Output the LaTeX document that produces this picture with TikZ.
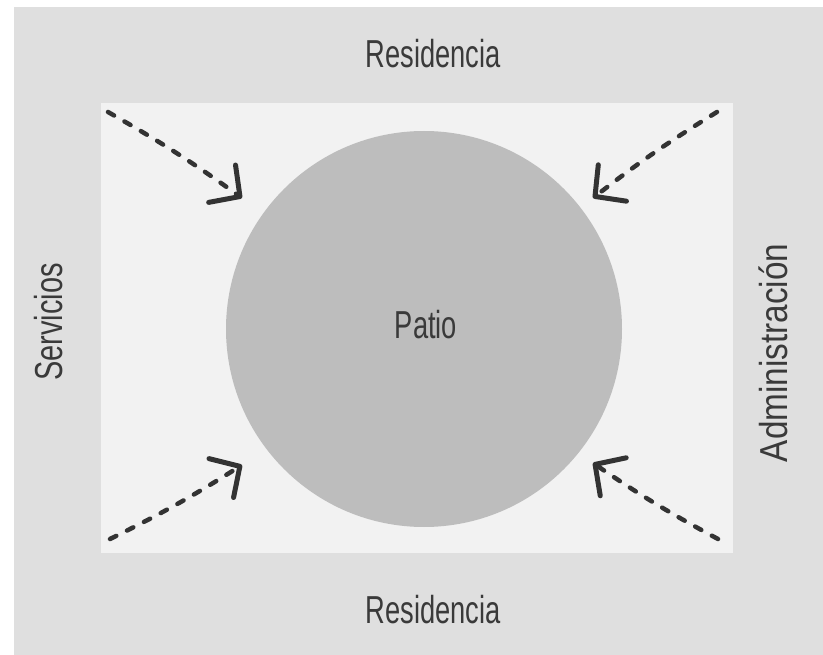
\documentclass[tikz,border=0pt]{standalone}
\usepackage{fontspec}
\newfontfamily\condfont[FakeStretch=0.7]{Liberation Sans}
\usetikzlibrary{arrows.meta}
\definecolor{marco}{HTML}{DFDFDF}
\definecolor{claro}{HTML}{F2F2F2}
\definecolor{gris}{HTML}{BDBDBD}
\definecolor{tinta}{HTML}{3A3A3A}
\definecolor{trazo}{HTML}{333333}
\begin{document}
\begin{tikzpicture}[x=1pt,y=-1pt,
    rotulo/.style={font=\condfont\fontsize{39}{39}\selectfont, text=tinta, inner sep=0pt, anchor=base},
    flecha/.style={draw=trazo, line width=4.5pt, line cap=round, dash pattern=on 7pt off 12pt,
        -{Straight Barb[length=22pt,width=46pt,line width=5pt,round]}}]
    \useasboundingbox (0,0) rectangle (823,655);
    \fill[white] (0,0) rectangle (823,655);
    \fill[marco] (14,7) rectangle (823,655); % fondo
    \fill[claro] (101,103) rectangle (733,553); % recinto
    \node[circle, fill=gris, minimum size=396pt, inner sep=0pt] (patio) at (424,329) {};
    \node[rotulo] (lpatio) at (426,339) {Patio};
    \node[rotulo] (arriba) at (433,68) {Residencia};
    \node[rotulo] (abajo) at (433,623) {Residencia};
    \node[rotulo, rotate=90, xscale=1.06] (servicios) at (62,322) {Servicios};
    \node[rotulo, rotate=90, xscale=1.22] (admin) at (787,353) {Administración};
    % esquinas
    \coordinate (a1) at (108,112); \coordinate (b1) at (242,198);
    \coordinate (a2) at (717,112); \coordinate (b2) at (593,198);
    \coordinate (a3) at (110,539); \coordinate (b3) at (242,465);
    \coordinate (a4) at (718,539); \coordinate (b4) at (593,463);
    \draw[flecha] (a1) to[bend left=3] (b1);
    \draw[flecha] (a2) to[bend right=3] (b2);
    \draw[flecha] (a3) to[bend right=3] (b3);
    \draw[flecha] (a4) to[bend left=3] (b4);
\end{tikzpicture}
\end{document}
